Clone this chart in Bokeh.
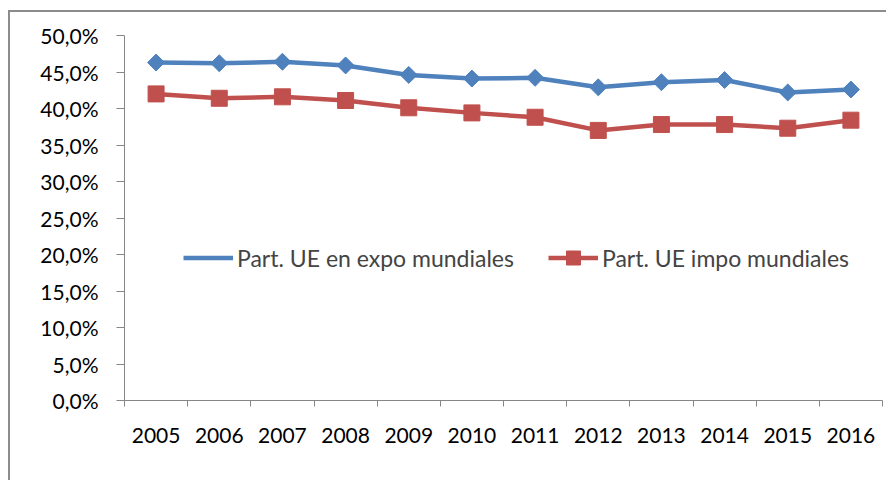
from bokeh.plotting import figure
from bokeh.models import FixedTicker, Legend, LegendItem, Range1d
from bokeh.embed import file_html
from bokeh.resources import INLINE

years = ["2005", "2006", "2007", "2008", "2009", "2010",
         "2011", "2012", "2013", "2014", "2015", "2016"]
expo = [46.3, 46.2, 46.4, 45.9, 44.6, 44.1, 44.2, 42.9, 43.6, 43.9, 42.2, 42.6]
impo = [42.0, 41.4, 41.6, 41.1, 40.1, 39.4, 38.8, 37.0, 37.8, 37.8, 37.3, 38.4]
y_ticks = [0, 5, 10, 15, 20, 25, 30, 35, 40, 45, 50]
y_tick_labels = ["0,0%", "5,0%", "10,0%", "15,0%", "20,0%", "25,0%",
                 "30,0%", "35,0%", "40,0%", "45,0%", "50,0%"]
labels = ["Part. UE en expo mundiales", "Part. UE impo mundiales"]

BLUE = "#4F81BD"
RED = "#C0504D"
AXIS = "#868686"
FONT = "Lato"

xs = [i + 0.5 for i in range(len(years))]

p = figure(width=886, height=480, output_backend="svg", toolbar_location=None,
           x_range=Range1d(0, len(years)), y_range=Range1d(0, 50),
           min_border_left=124, min_border_top=35, min_border_right=4,
           min_border_bottom=80)
p.outline_line_color = None
p.border_fill_color = None
p.background_fill_color = "white"
p.xgrid.visible = False
p.ygrid.visible = False

# outer chart-area border (cropped at right and bottom), drawn behind the canvas
p.styles = {
    "background-color": "white",
    "background-image": "linear-gradient(#8c8c8c, #8c8c8c), linear-gradient(#8c8c8c, #8c8c8c)",
    "background-repeat": "no-repeat",
    "background-size": "2px 100%, 100% 2px",
    "background-position": "8px 10px, 8px 10px",
}

l1 = p.line(xs, expo, line_width=4.5, color=BLUE)
s1 = p.scatter(xs, expo, marker="square", angle=0.785398, size=12, color=BLUE)
l2 = p.line(xs, impo, line_width=4.5, color=RED)
s2 = p.scatter(xs, impo, marker="square", size=16, color=RED)
# legend-only glyph (diamond swatch)
d1 = p.scatter(x=[], y=[], marker="diamond", size=14, color=BLUE)

# x axis: labels at category centres, ticks at category boundaries
p.xaxis.ticker = FixedTicker(ticks=xs, minor_ticks=list(range(len(years) + 1)))
p.xaxis.major_label_overrides = {x: y for x, y in zip(xs, years)}
p.xaxis.major_tick_out = 0
p.xaxis.major_tick_in = 0
p.xaxis.minor_tick_out = 6
p.xaxis.minor_tick_in = 0
p.xaxis.minor_tick_line_color = AXIS
p.xaxis.axis_line_color = AXIS
p.xaxis.major_label_standoff = 21
p.xaxis.major_label_text_font = FONT
p.xaxis.major_label_text_font_size = "21px"
p.xaxis.major_label_text_color = "#000000"

p.yaxis.ticker = FixedTicker(ticks=y_ticks, minor_ticks=[])
p.yaxis.major_label_overrides = {t: s for t, s in zip(y_ticks, y_tick_labels)}
p.yaxis.major_tick_out = 8
p.yaxis.major_tick_in = 0
p.yaxis.major_tick_line_color = AXIS
p.yaxis.axis_line_color = AXIS
p.yaxis.major_label_standoff = 18
p.yaxis.major_label_text_font = FONT
p.yaxis.major_label_text_font_size = "21px"
p.yaxis.major_label_text_color = "#000000"

legend = Legend(items=[LegendItem(label=labels[0], renderers=[l1, d1]),
                       LegendItem(label=labels[1], renderers=[l2, s2])],
                orientation="horizontal", location=(59, 125),
                border_line_color=None, background_fill_alpha=0,
                label_text_font=FONT, label_text_font_size="23px",
                glyph_width=50, glyph_height=35, label_standoff=4,
                spacing=34, padding=0, margin=0)
p.add_layout(legend)

open("out.html", "w").write(file_html(p, INLINE))
